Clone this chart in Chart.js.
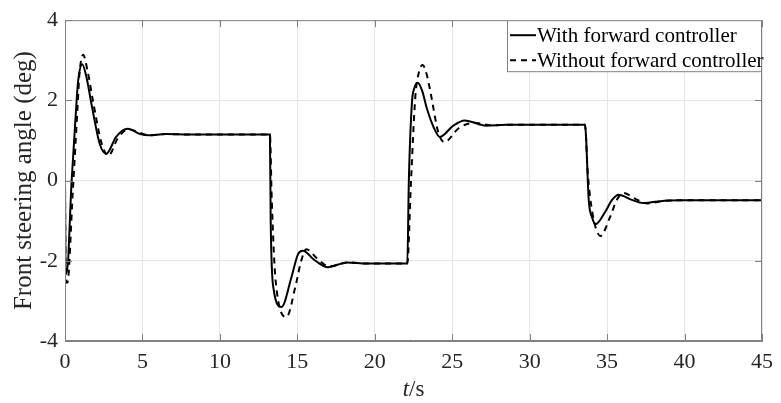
<!DOCTYPE html>
<html>
<head>
<meta charset="utf-8">
<script src="https://cdn.jsdelivr.net/npm/chart.js@4.4.1/dist/chart.umd.min.js"></script>
<style>
  html, body { margin: 0; padding: 0; background: #fff; }
  #wrap { width: 781px; height: 403px; }
</style>
</head>
<body>
<div id="wrap"><canvas id="steerChart" width="781" height="403"></canvas></div>
<script>
// time (s) and front steering angle (deg)
const withT = [0, 0.03, 0.11, 0.43, 0.75, 0.85, 1.11, 1.39, 1.71, 2.24, 2.67, 3.3, 4.05, 4.8, 5.4, 6.5, 8,
  13.23, 13.28, 13.45, 13.98, 14.62, 15.04, 15.36, 16.1, 16.97, 18.2, 19.5,
  22.1, 22.2, 22.4, 22.55, 22.77, 23.05, 23.37, 23.8, 24.2, 25.07, 25.8, 27.2, 28.5,
  33.57, 33.82, 34.04, 34.25, 34.89, 35.32, 35.74, 36.6, 37.34, 38.7, 40, 45];
const withY = [0, -2.0, -2.3, 0, 2.0, 2.49, 2.9, 2.57, 1.91, 0.92, 0.67, 1.09, 1.29, 1.17, 1.13, 1.16, 1.15,
  1.15, -1.0, -2.66, -3.15, -2.41, -1.84, -1.75, -1.98, -2.16, -2.04, -2.07,
  -2.07, 0, 1.95, 2.3, 2.44, 2.25, 1.79, 1.33, 1.09, 1.37, 1.5, 1.37, 1.39,
  1.39, -0.52, -0.93, -1.09, -0.77, -0.48, -0.35, -0.48, -0.56, -0.5, -0.49, -0.49];

const withoutT = [0, 0.04, 0.15, 0.5, 0.82, 0.92, 1.17, 1.45, 1.8, 2.35, 2.8, 3.4, 4.1, 4.9, 5.5, 6.5, 8,
  13.23, 13.35, 13.6, 14.3, 14.9, 15.25, 15.58, 16.3, 17.05, 18.3, 19.5,
  22.1, 22.34, 22.62, 22.85, 23.09, 23.35, 23.6, 24.1, 24.5, 25.4, 26.4, 27.6, 28.5,
  33.57, 33.75, 34.05, 34.57, 35.2, 35.6, 36.06, 36.8, 37.6, 38.8, 40, 45];
const withoutY = [0, -2.2, -2.55, -0.3, 1.9, 2.6, 3.14, 2.75, 2.0, 0.95, 0.62, 1.05, 1.28, 1.18, 1.13, 1.16, 1.15,
  1.15, -0.5, -2.5, -3.4, -2.6, -2.0, -1.71, -1.95, -2.14, -2.04, -2.07,
  -2.07, 0, 2.1, 2.7, 2.88, 2.65, 2.2, 1.2, 0.96, 1.3, 1.44, 1.38, 1.39,
  1.39, 0.2, -0.8, -1.38, -0.9, -0.5, -0.31, -0.45, -0.57, -0.5, -0.49, -0.49];

const seriesLabels = ["With forward controller", "Without forward controller"];

const serif = "'Liberation Serif', 'Times New Roman', serif";

function toPoints(ts, ys) {
  return ts.map((t, i) => ({ x: t, y: ys[i] }));
}

// box, inward tick marks, x title and legend (MATLAB look)
const framePlugin = {
  id: "frame",
  afterDraw(chart) {
    const ctx = chart.ctx;
    const a = chart.chartArea;
    const xs = chart.scales.x, ys = chart.scales.y;
    ctx.save();
    ctx.strokeStyle = "#808080";
    ctx.lineWidth = 1;
    ctx.beginPath();
    ctx.rect(a.left + 0.5, a.top + 0.5, a.right - a.left - 1, a.bottom - a.top - 1);
    ctx.stroke();
    const tl = 7;
    ctx.beginPath();
    xs.ticks.forEach(tk => {
      const px = Math.round(xs.getPixelForValue(tk.value)) + 0.5;
      ctx.moveTo(px, a.bottom); ctx.lineTo(px, a.bottom - tl);
      ctx.moveTo(px, a.top); ctx.lineTo(px, a.top + tl);
    });
    ys.ticks.forEach(tk => {
      const py = Math.round(ys.getPixelForValue(tk.value)) + 0.5;
      ctx.moveTo(a.left, py); ctx.lineTo(a.left + tl, py);
      ctx.moveTo(a.right, py); ctx.lineTo(a.right - tl, py);
    });
    ctx.stroke();

    // x axis title: italic t, upright /s
    ctx.fillStyle = "#262626";
    ctx.textBaseline = "middle";
    const cx = (a.left + a.right) / 2;
    ctx.font = "italic 23px " + serif;
    const w1 = ctx.measureText("t").width;
    ctx.font = "23px " + serif;
    const w2 = ctx.measureText("/s").width;
    const x0 = cx - (w1 + w2) / 2;
    ctx.font = "italic 23px " + serif;
    ctx.fillText("t", x0, 390);
    ctx.font = "23px " + serif;
    ctx.fillText("/s", x0 + w1, 390);

    // legend
    const lx = 507, ly = a.top, lw = a.right - lx, lh = 52;
    ctx.fillStyle = "#fff";
    ctx.fillRect(lx, ly, lw, lh);
    ctx.strokeStyle = "#808080";
    ctx.strokeRect(lx + 0.5, ly + 0.5, lw - 1, lh - 1);
    ctx.font = "21px " + serif;
    ctx.textAlign = "left";
    chart.data.datasets.forEach((ds, i) => {
      const yy = ly + 15 + i * 25;
      ctx.strokeStyle = "#000";
      ctx.lineWidth = 2;
      ctx.setLineDash(ds.borderDash || []);
      ctx.beginPath();
      ctx.moveTo(lx + 3, yy); ctx.lineTo(lx + 29, yy);
      ctx.stroke();
      ctx.setLineDash([]);
      ctx.fillStyle = "#000";
      ctx.fillText(ds.label, lx + 30, yy + 1);
    });
    ctx.restore();
  }
};

new Chart(document.getElementById("steerChart").getContext("2d"), {
  type: "line",
  data: {
    datasets: [
      {
        label: seriesLabels[0],
        data: toPoints(withT, withY),
        borderColor: "#000",
        borderWidth: 2,
        pointRadius: 0,
        cubicInterpolationMode: "monotone",
        fill: false
      },
      {
        label: seriesLabels[1],
        data: toPoints(withoutT, withoutY),
        borderColor: "#000",
        borderWidth: 2,
        borderDash: [6, 5],
        pointRadius: 0,
        cubicInterpolationMode: "monotone",
        fill: false
      }
    ]
  },
  options: {
    responsive: false,
    animation: false,
    devicePixelRatio: 1,
    layout: { padding: { top: 17, right: 13, left: 0, bottom: 0 } },
    plugins: { legend: { display: false }, tooltip: { enabled: false } },
    scales: {
      x: {
        type: "linear",
        min: 0, max: 45,
        ticks: { stepSize: 5, color: "#262626", padding: 8, font: { family: serif, size: 22 }, maxRotation: 0 },
        grid: { color: "#e6e6e6", drawTicks: false },
        border: { color: "#808080" },
        afterFit(scale) { scale.height = 62; }
      },
      y: {
        min: -4, max: 4,
        ticks: { stepSize: 2, color: "#262626", padding: 7, font: { family: serif, size: 22 } },
        grid: { color: "#e6e6e6", drawTicks: false },
        border: { color: "#808080" },
        title: {
          display: true,
          text: "Front steering angle (deg)",
          color: "#262626",
          font: { family: serif, size: 25 },
          padding: { top: 9, bottom: 0 }
        },
        afterFit(scale) { scale.width = 65; }
      }
    }
  },
  plugins: [framePlugin]
});
</script>
</body>
</html>
